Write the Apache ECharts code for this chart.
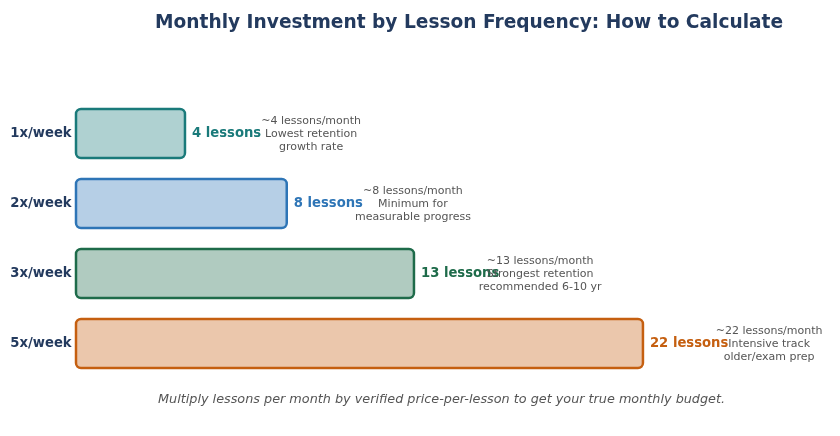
<!DOCTYPE html>
<html>
<head>
<meta charset="utf-8">
<script src="https://cdn.jsdelivr.net/npm/echarts@6/dist/echarts.min.js"></script>
<style>
  html, body { margin: 0; padding: 0; background: #fff; }
  #chart { width: 840px; height: 436px; }
</style>
</head>
<body>
<div id="chart"></div>
<script>
var frequencies = ['1x/week', '2x/week', '3x/week', '5x/week'];
var lessonsPerMonth = [4, 8, 13, 22];
var notes = [
    '~4 lessons/month\nLowest retention\ngrowth rate',
    '~8 lessons/month\nMinimum for\nmeasurable progress',
    '~13 lessons/month\nStrongest retention\nrecommended 6-10 yr',
    '~22 lessons/month\nIntensive track\nolder/exam prep'
];
var colors = ['#1a7a7a', '#2e75b6', '#1e6b4a', '#c55f10'];

var FONT = 'DejaVu Sans';
var NOTE_SHIFT = 5.1; // note centre, in lessons past the bar end

function hexAlpha(hex, a) {
    var r = parseInt(hex.slice(1, 3), 16),
        g = parseInt(hex.slice(3, 5), 16),
        b = parseInt(hex.slice(5, 7), 16);
    return 'rgba(' + r + ',' + g + ',' + b + ',' + a + ')';
}

var myChart = echarts.init(document.getElementById('chart'));

var option = {
    animation: false,
    title: [{
        text: 'Monthly Investment by Lesson Frequency: How to Calculate',
        left: 150,
        top: 9,
        textStyle: { fontFamily: FONT, fontSize: 18.6, fontWeight: 'bold', color: '#233a5e' }
    }, {
        text: 'Multiply lessons per month by verified price-per-lesson to get your true monthly budget.',
        left: 153,
        top: 388,
        textStyle: { fontFamily: FONT, fontSize: 12.8, fontStyle: 'italic', fontWeight: 'normal', color: '#555555' }
    }],
    grid: { left: 79.6, right: 48, top: 98.5, bottom: 57.5 },
    xAxis: {
        type: 'value',
        min: 0,
        max: 28,
        show: false
    },
    yAxis: {
        type: 'category',
        data: frequencies,
        inverse: true,
        axisLine: { show: false },
        axisTick: { show: false },
        splitLine: { show: false },
        axisLabel: {
            margin: 8,
            fontFamily: FONT,
            fontSize: 13.2,
            fontWeight: 'bold',
            color: '#233a5e'
        }
    },
    series: [{
        type: 'custom',
        data: lessonsPerMonth.map(function (v, i) { return [v, i]; }),
        renderItem: function (params, api) {
            var i = params.dataIndex;
            var v = api.value(0);
            var start = api.coord([0, i]);
            var end = api.coord([v, i]);
            var note = api.coord([v + NOTE_SHIFT, i]);
            var h = api.size([0, 1])[1] * 0.7;
            var pad = 3.6;
            var c = colors[i];
            return {
                type: 'group',
                children: [{
                    type: 'rect',
                    shape: { x: start[0] - pad, y: start[1] - h / 2, width: end[0] - start[0] + 2 * pad, height: h, r: 5 },
                    style: { fill: hexAlpha(c, 0.35), stroke: c, lineWidth: 2.5 }
                }, {
                    type: 'text',
                    x: end[0] + pad + 7,
                    y: end[1] + 0.5,
                    style: {
                        text: v + ' lessons',
                        fill: c,
                        font: 'bold 13.2px "' + FONT + '"',
                        align: 'left',
                        verticalAlign: 'middle'
                    }
                }, {
                    type: 'text',
                    x: note[0],
                    y: note[1] + 0.5,
                    style: {
                        text: notes[i],
                        fill: '#555555',
                        font: '11px "' + FONT + '"',
                        lineHeight: 13,
                        align: 'center',
                        verticalAlign: 'middle'
                    }
                }]
            };
        }
    }]
};

myChart.setOption(option);
</script>
</body>
</html>
